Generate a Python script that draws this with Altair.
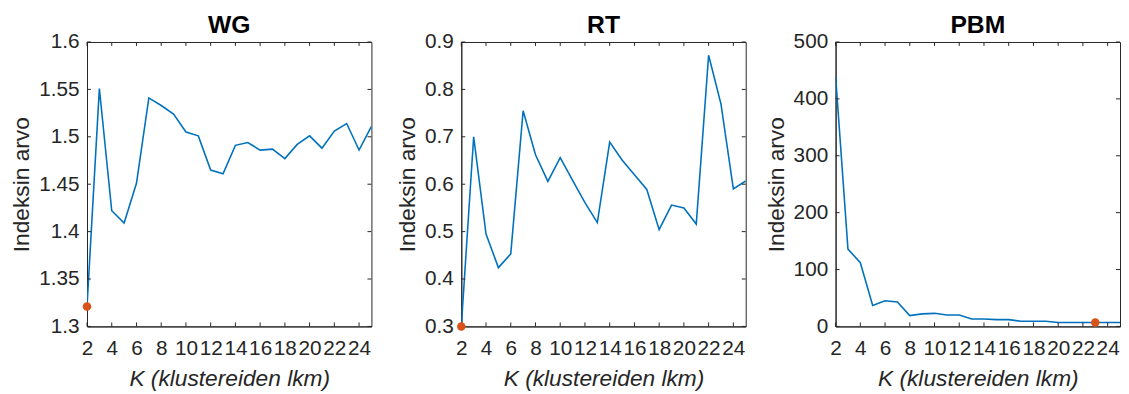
import altair as alt
import pandas as pd

# ---- data ----
k_values = list(range(2, 26))
wg_values = [1.321, 1.551, 1.422, 1.409, 1.451, 1.541, 1.533, 1.524, 1.505, 1.501,
             1.465, 1.461, 1.491, 1.494, 1.486, 1.487, 1.477, 1.492, 1.501, 1.488,
             1.506, 1.514, 1.486, 1.511]
rt_values = [0.300, 0.700, 0.495, 0.424, 0.453, 0.755, 0.662, 0.606, 0.656, 0.608,
             0.561, 0.519, 0.689, 0.651, 0.620, 0.589, 0.504, 0.556, 0.550, 0.516,
             0.872, 0.769, 0.590, 0.607]
pbm_values = [440, 136, 112, 37, 45, 43, 19, 22, 23, 20,
              20, 13, 13, 12, 12, 9, 9, 9, 7, 7,
              7, 7, 7, 7]

panel_titles = ["WG", "RT", "PBM"]
best_k = [2, 2, 23]
y_domains = [[1.3, 1.6], [0.3, 0.9], [0, 500]]
y_ticks = [[1.3, 1.35, 1.4, 1.45, 1.5, 1.55, 1.6],
           [0.3, 0.4, 0.5, 0.6, 0.7, 0.8, 0.9],
           [0, 100, 200, 300, 400, 500]]
x_ticks = list(range(2, 25, 2))
x_domain = [2, 25]

x_title = "K (klustereiden lkm)"
y_title = "Indeksin arvo"

LINE = "#0072BD"
MARK = "#D95319"
AX = "#262626"
FONT = "Liberation Sans"
W = 288
H = 288
TL = 4  # inner tick length


def panel(title, values, best, ydom, yt):
    df = pd.DataFrame({"k": k_values, "v": values})
    best_df = pd.DataFrame({"k": [best], "v": [values[k_values.index(best)]]})
    xt = pd.DataFrame({"k": x_ticks})
    ytd = pd.DataFrame({"v": yt})

    xs = alt.Scale(domain=x_domain, nice=False, zero=False)
    ys = alt.Scale(domain=ydom, nice=False, zero=False)

    xa = alt.Axis(values=x_ticks, title=x_title, ticks=False, tickSize=0,
                  labelPadding=11, titlePadding=10, labelOverlap=False,
                  labelFlush=False, grid=False, titleFontStyle="italic",
                  labelFontSize=21, titleFontSize=23, labelFont=FONT, titleFont=FONT,
                  titleFontWeight="normal", labelColor=AX, titleColor=AX,
                  domainColor=AX)
    ya = alt.Axis(values=yt, title=y_title, ticks=False, tickSize=0,
                  labelPadding=8, titlePadding=5, labelOverlap=False,
                  labelFlush=False, grid=False, format="~r",
                  labelFontSize=21, titleFontSize=23, labelFont=FONT, titleFont=FONT,
                  titleFontWeight="normal", labelColor=AX, titleColor=AX,
                  domainColor=AX)

    line = alt.Chart(df).mark_line(color=LINE, strokeWidth=1.6, clip=True).encode(
        x=alt.X("k:Q", scale=xs, axis=xa),
        y=alt.Y("v:Q", scale=ys, axis=ya),
    )
    pt = alt.Chart(best_df).mark_point(filled=True, color=MARK, size=75, opacity=1).encode(
        x=alt.X("k:Q", scale=xs, axis=xa),
        y=alt.Y("v:Q", scale=ys, axis=ya),
    )
    bt = alt.Chart(xt).mark_rule(color=AX, strokeWidth=1).encode(
        x=alt.X("k:Q", scale=xs, axis=xa), y=alt.value(H), y2=alt.value(H - TL))
    tt = alt.Chart(xt).mark_rule(color=AX, strokeWidth=1).encode(
        x=alt.X("k:Q", scale=xs, axis=xa), y=alt.value(0), y2=alt.value(TL))
    lt = alt.Chart(ytd).mark_rule(color=AX, strokeWidth=1).encode(
        y=alt.Y("v:Q", scale=ys, axis=ya), x=alt.value(0), x2=alt.value(TL))
    rt = alt.Chart(ytd).mark_rule(color=AX, strokeWidth=1).encode(
        y=alt.Y("v:Q", scale=ys, axis=ya), x=alt.value(W - TL), x2=alt.value(W))

    return alt.layer(line, bt, tt, lt, rt, pt).properties(
        width=W, height=H,
        title=alt.Title(title, fontSize=25, fontWeight="bold", font=FONT,
                        color="#000000", frame="group", anchor="middle", offset=-7),
    )


series = [wg_values, rt_values, pbm_values]
panels = [panel(panel_titles[i], series[i], best_k[i], y_domains[i], y_ticks[i])
          for i in range(3)]

chart = alt.hconcat(*panels, spacing=91, bounds="flush").properties(
    padding={"left": 2, "top": 2, "right": 0, "bottom": 0},
    background="white",
).configure_view(stroke=AX, strokeWidth=1).configure_axis(
    domainColor=AX, domainWidth=1, labelColor=AX, titleColor=AX,
    labelFont=FONT, titleFont=FONT, labelFontSize=21, titleFontSize=23,
    titleFontWeight="normal",
)

chart.save("out.html", embed_options={"renderer": "svg", "actions": False})
